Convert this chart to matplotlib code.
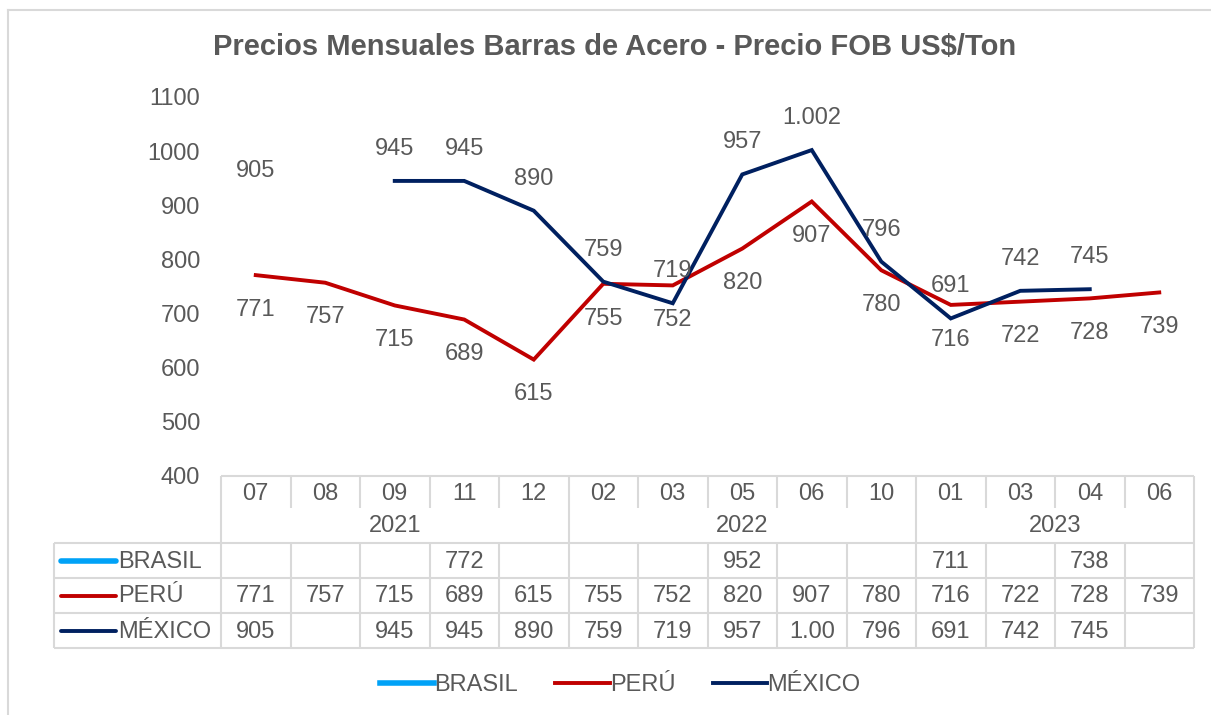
import numpy as np
import matplotlib.pyplot as plt

plt.rcParams['font.family'] = ['Liberation Sans', 'DejaVu Sans']

months = ['07', '08', '09', '11', '12', '02', '03', '05', '06', '10', '01', '03', '04', '06']
years = ['2021', '2022', '2023']
year_sizes = [5, 5, 4]

brasil = [None, None, None, 772, None, None, None, 952, None, None, 711, None, 738, None]
peru = [771, 757, 715, 689, 615, 755, 752, 820, 907, 780, 716, 722, 728, 739]
mexico = [905, None, 945, 945, 890, 759, 719, 957, 1002, 796, 691, 742, 745, None]

series = [('BRASIL', brasil, '#00A2F7'), ('PERÚ', peru, '#C00000'), ('MÉXICO', mexico, '#002060')]

GRAY = '#595959'
GRID = '#D9D9D9'
W, H = 1211, 715
FS = 17


def fmt(v):
    if v is None:
        return ''
    return f'{v:,}'.replace(',', '.')


def arr(vals):
    return np.array([np.nan if v is None else v for v in vals], dtype=float)


fig = plt.figure(figsize=(W / 100, H / 100), dpi=100)

# outer chart frame (only top and left visible)
fig.add_artist(plt.Line2D([8 / W, 1], [1 - 10 / H, 1 - 10 / H], color=GRID, lw=1.5))
fig.add_artist(plt.Line2D([8 / W, 8 / W], [0, 1 - 10 / H], color=GRID, lw=1.5))

x0, x1 = 221, 1194
ytop, ybot = 97, 476
ax = fig.add_axes([x0 / W, 1 - ybot / H, (x1 - x0) / W, (ybot - ytop) / H])
n = len(months)
x = np.arange(n)
ax.set_xlim(-0.5, n - 0.5)
ax.set_ylim(400, 1100)
ax.set_yticks(range(400, 1101, 100))
ax.tick_params(axis='y', length=0, labelsize=FS, labelcolor=GRAY, pad=15)
ax.set_xticks([])
for s in ax.spines.values():
    s.set_visible(False)

for name, vals, col in series:
    ax.plot(x, arr(vals), color=col, lw=2.8, solid_joinstyle='miter')

for i, v in enumerate(peru):
    ax.annotate(fmt(v), (i, v), xytext=(0, -25), textcoords='offset points',
                ha='center', va='center', fontsize=FS, color=GRAY)
for i, v in enumerate(mexico):
    if v is None:
        continue
    ax.annotate(fmt(v), (i, v), xytext=(0, 23), textcoords='offset points',
                ha='center', va='center', fontsize=FS, color=GRAY)

fig.text(615 / W, 1 - 47 / H, 'Precios Mensuales Barras de Acero - Precio FOB US$/Ton',
         ha='center', va='center', fontsize=21, fontweight='bold', color=GRAY)

# data table, drawn in pixel coordinates
tb = fig.add_axes([0, 0, 1, 1])
tb.set_xlim(0, W)
tb.set_ylim(H, 0)
tb.axis('off')
cw = (x1 - x0) / n
rows = [476, 510, 543, 578, 613, 648]
lab_x = 54


def hline(y, xa, xb):
    tb.plot([xa, xb], [y, y], color=GRID, lw=1.5, solid_capstyle='butt')


def vline(xx, ya, yb):
    tb.plot([xx, xx], [ya, yb], color=GRID, lw=1.5, solid_capstyle='butt')


hline(rows[0], x0, x1)
for y in rows[2:]:
    hline(y, lab_x, x1)
vline(lab_x, rows[2], rows[5])
for i in range(n + 1):
    xx = x0 + i * cw
    vline(xx, rows[0], rows[1] - 2)
    vline(xx, rows[2], rows[5])
k = 0
for sz in [0] + year_sizes:
    k += sz
    vline(x0 + k * cw, rows[1] - 2, rows[2])

for i, m in enumerate(months):
    tb.text(x0 + (i + 0.5) * cw, (rows[0] + rows[1]) / 2 + 1, m, ha='center', va='center',
            fontsize=FS, color=GRAY)
k = 0
for yr, sz in zip(years, year_sizes):
    tb.text(x0 + (k + sz / 2) * cw, (rows[1] + rows[2]) / 2, yr, ha='center', va='center',
            fontsize=FS, color=GRAY)
    k += sz

for r, (name, vals, col) in enumerate(series):
    yc = (rows[2 + r] + rows[3 + r]) / 2
    tb.plot([61, 116], [yc, yc], color=col, lw=2.8 if r else 4, solid_capstyle='round')
    tb.text(118, yc + 1, name, ha='left', va='center', fontsize=FS, color=GRAY)
    for i, v in enumerate(vals):
        tb.text(x0 + (i + 0.5) * cw, yc + 1, fmt(v)[:4], ha='center', va='center',
                fontsize=FS, color=GRAY)

# legend
handles = [plt.Line2D([], [], color=c, lw=2.8 if i else 4) for i, (_, _, c) in enumerate(series)]
fig.legend(handles, [s[0] for s in series], loc='center', bbox_to_anchor=(620 / W, 1 - 685 / H),
           ncol=3, frameon=False, fontsize=FS, labelcolor=GRAY, handlelength=2.3,
           handletextpad=0.0, columnspacing=1.6)

fig.savefig('out.png', dpi=100)
